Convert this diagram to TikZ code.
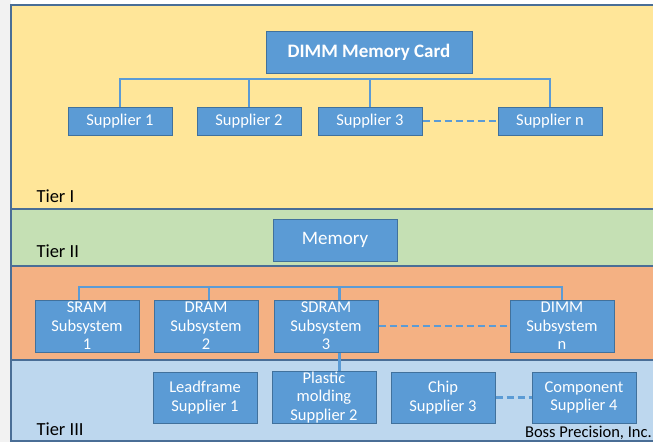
\documentclass[tikz,border=0pt]{standalone}
\usepackage{fontspec}
\setmainfont{Carlito}
\usetikzlibrary{positioning}
\definecolor{cardfill}{HTML}{5B9BD5}
\definecolor{cardedge}{HTML}{41719C}
\definecolor{tierone}{HTML}{FFE699}
\definecolor{tiertwo}{HTML}{C5E0B4}
\definecolor{tiersub}{HTML}{F4B183}
\definecolor{tierthree}{HTML}{BDD7EE}
\definecolor{bandedge}{HTML}{4A6E96}

\begin{document}
\begin{tikzpicture}[
    x=1pt, y=-1pt,
    band/.style={fill=#1, draw=bandedge, line width=1.2pt},
    box/.style={rectangle, draw=cardedge, line width=1pt, fill=cardfill, text=white, font=\fontsize{16.5}{18.5}\selectfont, align=center, inner sep=0pt, minimum width=104pt, minimum height=#1},
    link/.style={draw=cardfill, line width=2.5pt},
    dots/.style={link, dash pattern=on 7pt off 4pt},
    tier/.style={font=\fontsize{18.5}{21}\selectfont, anchor=base west}
]
\useasboundingbox (0,0) rectangle (653,442);
\clip (0,0) rectangle (653,442);

% tier bands
\fill[gray!10] (0,0) rectangle (11,442);
\draw[band=tierone] (11,5) rectangle (660,209);
\draw[band=tiertwo] (11,209) rectangle (660,266);
\draw[band=tiersub] (11,266) rectangle (660,360);
\draw[band=tierthree] (11,360) rectangle (660,441);

\node[tier] (t1) at (33,202) {Tier I};
\node[tier] (t2) at (33,257) {Tier II};
\node[tier] (t3) at (33,435) {Tier III};
\node[font=\fontsize{16.5}{18}\selectfont, anchor=base east, inner sep=0pt] (boss) at (652,437.5) {Boss Precision, Inc.};

% tier I
\node (card) [box=42pt, minimum width=206pt, font=\bfseries\fontsize{19}{22}\selectfont] at (369,52) {DIMM Memory Card};
\node (s1) [box=28pt] at (120,121) {Supplier 1};
\node (s2) [box=28pt, right=24pt of s1] {Supplier 2};
\node (s3) [box=28pt, right=16pt of s2] {Supplier 3};
\node (sn) [box=28pt, right=75pt of s3] {Supplier n};
\coordinate (topbus) at (0,79);
\draw[link] (s1.north) -- (s1.north |- topbus) -- (sn.north |- topbus) -- (sn.north);
\foreach \s in {s2,s3}
    \draw[link] (\s.north) -- (\s.north |- topbus);
\draw[dots] (s3.east) -- (sn.west);

% tier II
\node (mem) [box=42pt, minimum width=124pt, font=\fontsize{19}{22}\selectfont] at (335,240) {Memory};

% subsystems
\node (sram) [box=52pt] at (87,326) {SRAM\\Subsystem\\1};
\node (dram) [box=52pt, right=14pt of sram] {DRAM\\Subsystem\\2};
\node (sdram) [box=52pt, right=15pt of dram] {SDRAM\\Subsystem\\3};
\node (dimmn) [box=52pt, right=131pt of sdram] {DIMM\\Subsystem\\n};
\coordinate (subbus) at (0,287);
\draw[link] ([xshift=-8pt]sram.north) |- (subbus -| dimmn.north) -- (dimmn.north);
\draw[link] ([xshift=3pt]dram.north) -- ([xshift=3pt]dram.north |- subbus);
\draw[link] ([xshift=13.5pt]sdram.north) -- ([xshift=13.5pt]sdram.north |- subbus);
\draw[dots] (sdram.east) -- (dimmn.west);

% tier III
\node (lead) [box=51pt] at (205,397.5) {Leadframe\\Supplier 1};
\node (plastic) [box=51pt, right=14pt of lead] {Plastic\\molding\\Supplier 2};
\node (chip) [box=51pt, right=14pt of plastic] {Chip\\Supplier 3};
\node (comp) [box=51pt, right=36pt of chip] {Component\\Supplier 4};
\draw[link] ([xshift=13.5pt]sdram.south) -- ([xshift=13.5pt]sdram.south |- plastic.north);
\draw[dots] (chip.east) -- (comp.west);
\end{tikzpicture}
\end{document}
